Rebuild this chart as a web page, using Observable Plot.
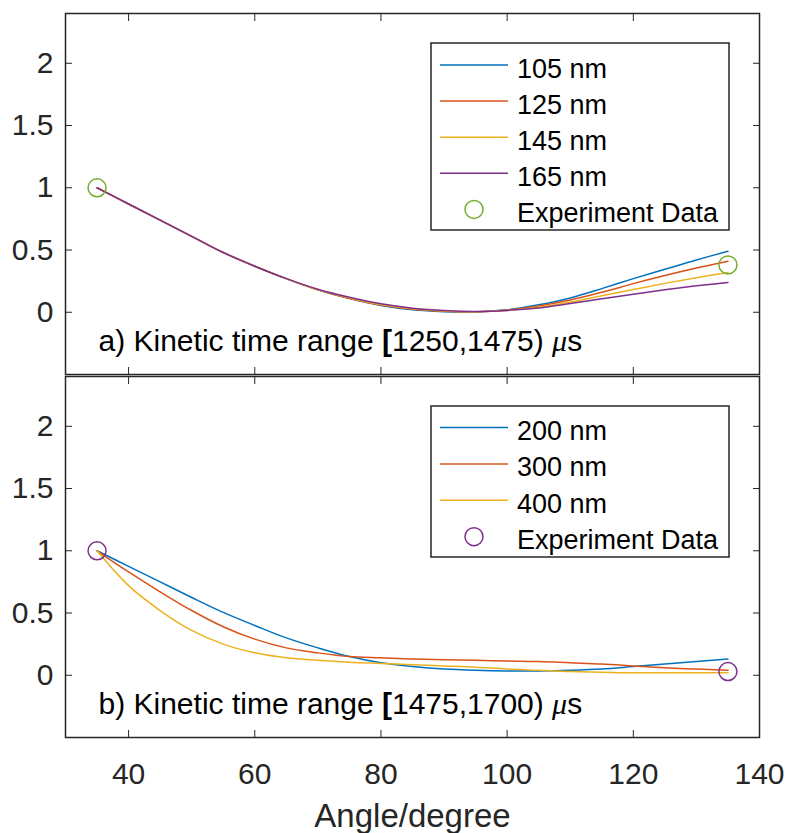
<!DOCTYPE html>
<html><head><meta charset="utf-8">
<script src="https://cdn.jsdelivr.net/npm/d3@7"></script>
<script src="https://cdn.jsdelivr.net/npm/@observablehq/plot@0.6"></script>
<style>
body{margin:0;background:#fff;}
#wrap{position:relative;width:786px;height:833px;font-family:"Liberation Sans",Arial,sans-serif;overflow:hidden;}
#wrap svg{position:absolute;left:0;}
</style></head><body><div id="wrap"></div>
<script>
// ---- data ----
const angles = [35,40,45,50,55,60,65,70,75,80,85,90,95,100,105,110,115,120,125,130,135];
const xTicks = [40,60,80,100,120,140];
const yTicks = [0,0.5,1,1.5,2];

const namesA = ["105 nm","125 nm","145 nm","165 nm"];
const a105 = [1.00,0.87,0.74,0.61,0.48,0.37,0.27,0.18,0.11,0.055,0.020,0.005,0.003,0.020,0.060,0.115,0.190,0.270,0.345,0.420,0.490];
const a125 = [1.00,0.87,0.74,0.61,0.48,0.37,0.27,0.18,0.11,0.058,0.024,0.008,0.004,0.018,0.050,0.098,0.160,0.230,0.295,0.355,0.410];
const a145 = [1.00,0.87,0.74,0.61,0.48,0.37,0.27,0.18,0.115,0.062,0.028,0.010,0.005,0.015,0.040,0.082,0.132,0.182,0.232,0.278,0.320];
const a165 = [1.00,0.87,0.74,0.61,0.48,0.37,0.27,0.185,0.12,0.068,0.033,0.014,0.007,0.015,0.035,0.070,0.108,0.145,0.180,0.212,0.240];
const expAngles = [35,135];
const expA = [1.00,0.38];

const namesB = ["200 nm","300 nm","400 nm"];
const b200 = [1.00,0.875,0.75,0.625,0.505,0.40,0.30,0.22,0.15,0.10,0.07,0.05,0.04,0.035,0.035,0.04,0.05,0.07,0.09,0.11,0.13];
const b300 = [1.00,0.83,0.67,0.52,0.39,0.29,0.22,0.18,0.15,0.14,0.13,0.125,0.12,0.115,0.11,0.10,0.09,0.075,0.06,0.05,0.04];
const b400 = [1.00,0.72,0.52,0.36,0.25,0.18,0.14,0.12,0.105,0.095,0.085,0.075,0.065,0.05,0.04,0.03,0.025,0.02,0.02,0.02,0.02];
const expB = [1.00,0.03];

const expLabel = "Experiment Data";
const labelA = "a) Kinetic time range [1250,1475) μs";
const labelB = "b) Kinetic time range [1475,1700) μs";
const xLabel = "Angle/degree";

const lineColors = ["#0072BD","#D95319","#EDB120","#7E2F8E"];
const expColorA = "#77AC30", expColorB = "#7E2F8E";
const ink = "#262626";

// ---- build tables ----
function toRows(names, series){
  return names.flatMap((n,i)=>angles.map((a,j)=>({series:n, angle:a, value:series[i][j]})));
}
const rowsA = toRows(namesA,[a105,a125,a145,a165]);
const rowsB = toRows(namesB,[b200,b300,b400]);
const expRowsA = expAngles.map((a,i)=>({angle:a, value:expA[i]}));
const expRowsB = expAngles.map((a,i)=>({angle:a, value:expB[i]}));

const font = "Liberation Sans, Arial, sans-serif";
const wrap = document.getElementById("wrap");

function panel({rows, names, exp, expColor, label, height, marginTop, marginBottom, showX}){
  const marks = [
    Plot.line(rows, {x:"angle", y:"value", z:"series", stroke:"series", strokeWidth:1.5, curve:"catmull-rom"}),
    Plot.dot(exp, {x:"angle", y:"value", r:9, stroke:expColor, strokeWidth:1.5, fill:"none"}),
    Plot.text([label], {frameAnchor:"bottom-left", dx:33, dy:-24, lineAnchor:"bottom", textAnchor:"start", fontSize:30, fill:"#000"}),
    Plot.axisY(yTicks, {anchor:"left", tickSize:0, tickPadding:12, fontSize:30, label:null, tickFormat:d=>String(d), fill:ink}),
    Plot.axisY(yTicks, {anchor:"left", tickSize:7, dx:7, tickFormat:()=>"", label:null, stroke:ink}),
    Plot.axisY(yTicks, {anchor:"right", tickSize:7, dx:-7, tickFormat:()=>"", label:null, stroke:ink}),
    Plot.axisX(xTicks, {anchor:"top", tickSize:7, dy:7, tickFormat:()=>"", label:null, stroke:ink}),
    Plot.axisX(xTicks, {anchor:"bottom", tickSize:7, dy:-7, tickFormat:()=>"", label:null, stroke:ink}),
    Plot.frame({stroke:ink, strokeWidth:1.5})
  ];
  if (showX) {
    marks.push(Plot.axisX(xTicks, {anchor:"bottom", tickSize:0, tickPadding:25, fontSize:30, label:null, tickFormat:d=>String(d), fill:ink}));
    marks.push(Plot.text([xLabel], {frameAnchor:"bottom", dy:89, lineAnchor:"bottom", fontSize:33, fill:ink}));
  }
  return Plot.plot({
    width:786, height, marginLeft:65, marginRight:27, marginTop, marginBottom,
    style:{fontFamily:font, color:ink, background:"transparent", overflow:"visible"},
    x:{domain:[30,140]},
    y:{domain:[-0.5,2.4]},
    color:{domain:names, range:lineColors},
    marks
  });
}

const plotA = panel({rows:rowsA, names:namesA, exp:expRowsA, expColor:expColorA, label:labelA, height:374, marginTop:13, marginBottom:0, showX:false});
plotA.style.top = "0px";
const plotB = panel({rows:rowsB, names:namesB, exp:expRowsB, expColor:expColorB, label:labelB, height:459, marginTop:2, marginBottom:96, showX:true});
plotB.style.top = "374px";
wrap.appendChild(plotB);
wrap.appendChild(plotA);

// rich text for the annotations: bold bracket, italic mu
function enrich(svg, label){
  svg.querySelectorAll("text").forEach(t=>{
    if (t.textContent === label) {
      const i = label.indexOf("[");
      const m = label.indexOf("μ");
      const pre = label.slice(0,i), mid = label.slice(i+1,m), post = label.slice(m+1);
      t.textContent = "";
      const add = (s, attrs)=>{const ts=document.createElementNS("http://www.w3.org/2000/svg","tspan"); ts.textContent=s; for(const k in attrs) ts.setAttribute(k,attrs[k]); t.appendChild(ts);};
      add(pre,{});
      add("[",{"font-weight":"bold"});
      add(mid,{});
      add("μ",{"font-style":"italic","font-family":"Liberation Serif, serif"});
      add(post,{});
    }
  });
}
enrich(plotA, labelA);
enrich(plotB, labelB);

// ---- legends (overlay) ----
const ov = d3.select(wrap).append("svg").attr("width",786).attr("height",833).style("top","0px").style("pointer-events","none");
function legend({x, y, w, h, rowStart, rowStep, names, colors, expColor}){
  const g = ov.append("g");
  g.append("rect").attr("x",x).attr("y",y).attr("width",w).attr("height",h).attr("fill","#fff").attr("stroke",ink).attr("stroke-width",1.5);
  const items = names.map((n,i)=>({type:"line", color:colors[i], label:n})).concat([{type:"circle", color:expColor, label:expLabel}]);
  items.forEach((it,i)=>{
    const cy = rowStart + i*rowStep;
    if (it.type==="line") g.append("line").attr("x1",440).attr("x2",508).attr("y1",cy).attr("y2",cy).attr("stroke",it.color).attr("stroke-width",1.5);
    else g.append("circle").attr("cx",474).attr("cy",cy).attr("r",9).attr("fill","none").attr("stroke",it.color).attr("stroke-width",1.5);
    g.append("text").attr("x",517).attr("y",cy+12.5).attr("font-family",font).attr("font-size",27).attr("fill","#000").text(it.label);
  });
}
legend({x:431, y:43, w:298, h:187, rowStart:65, rowStep:36.1, names:namesA, colors:lineColors, expColor:expColorA});
legend({x:431, y:406, w:298, h:151, rowStart:427.5, rowStep:36.4, names:namesB, colors:lineColors, expColor:expColorB});
</script></body></html>
